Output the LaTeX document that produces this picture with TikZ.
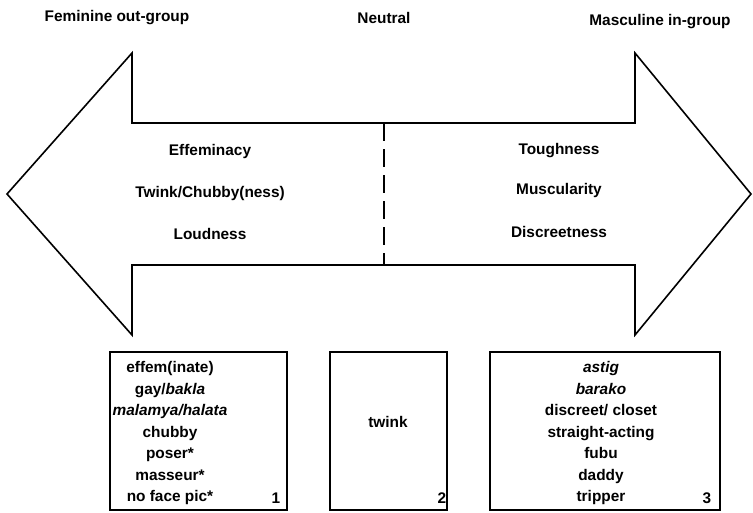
\documentclass[tikz,border=0pt]{standalone}
\usepackage{fontspec}
\setmainfont{Liberation Sans}
\begin{document}
\begin{tikzpicture}[x=1pt, y=-1pt,
  font=\fontsize{15.4}{21.5}\selectfont\bfseries,
  flecha/.style={line width=1.6pt, line join=miter},
  caja/.style={draw, line width=1.6pt, minimum width=#1, minimum height=158, inner sep=0pt},
  lista/.style={align=center, inner sep=0pt}]
  \useasboundingbox (0,0) rectangle (753,512);

  % Flecha doble
  \draw[flecha] (7,194) -- (132,53) -- (132,123) -- (635,123) -- (635,53)
    -- (751,194) -- (635,335) -- (635,265) -- (132,265) -- (132,335) -- cycle;

  % Linea central
  \draw[line width=1.6pt, dash pattern=on 18pt off 8pt] (384,123) -- (384,265);

  % Etiquetas superiores
  \node (femenino) at (117,18) {Feminine out-group};
  \node (neutro) at (384,18) {Neutral};
  \node (masculino) at (660,22) {Masculine in-group};

  % Rasgos dentro de la flecha
  \node (afem1) at (210,152) {Effeminacy};
  \node (afem2) at (210,194) {Twink/Chubby(ness)};
  \node (afem3) at (210,234) {Loudness};
  \node (amas1) at (559,151) {Toughness};
  \node (amas2) at (559,191) {Muscularity};
  \node (amas3) at (559,232) {Discreetness};

  % Cajas inferiores
  \node[caja=177] (caja1) at (198.5,431) {};
  \node[caja=117] (caja2) at (388.5,431) {};
  \node[caja=230] (caja3) at (605,431) {};

  % Terminos
  \node[lista] (lista1) at (170,433.5) {effem(inate)\\gay/\textit{bakla}\\
    \textit{malamya/halata}\\chubby\\poser*\\masseur*\\no face pic*};
  \node[lista] (lista2) at (388,422) {twink};
  \node[lista] (lista3) at (601,433.5) {\textit{astig}\\\textit{barako}\\
    discreet/ closet\\straight-acting\\fubu\\daddy\\tripper};

  % Numeros
  \node (num1) at (276,498) {1};
  \node (num2) at (442,498) {2};
  \node (num3) at (707,498) {3};
\end{tikzpicture}
\end{document}
